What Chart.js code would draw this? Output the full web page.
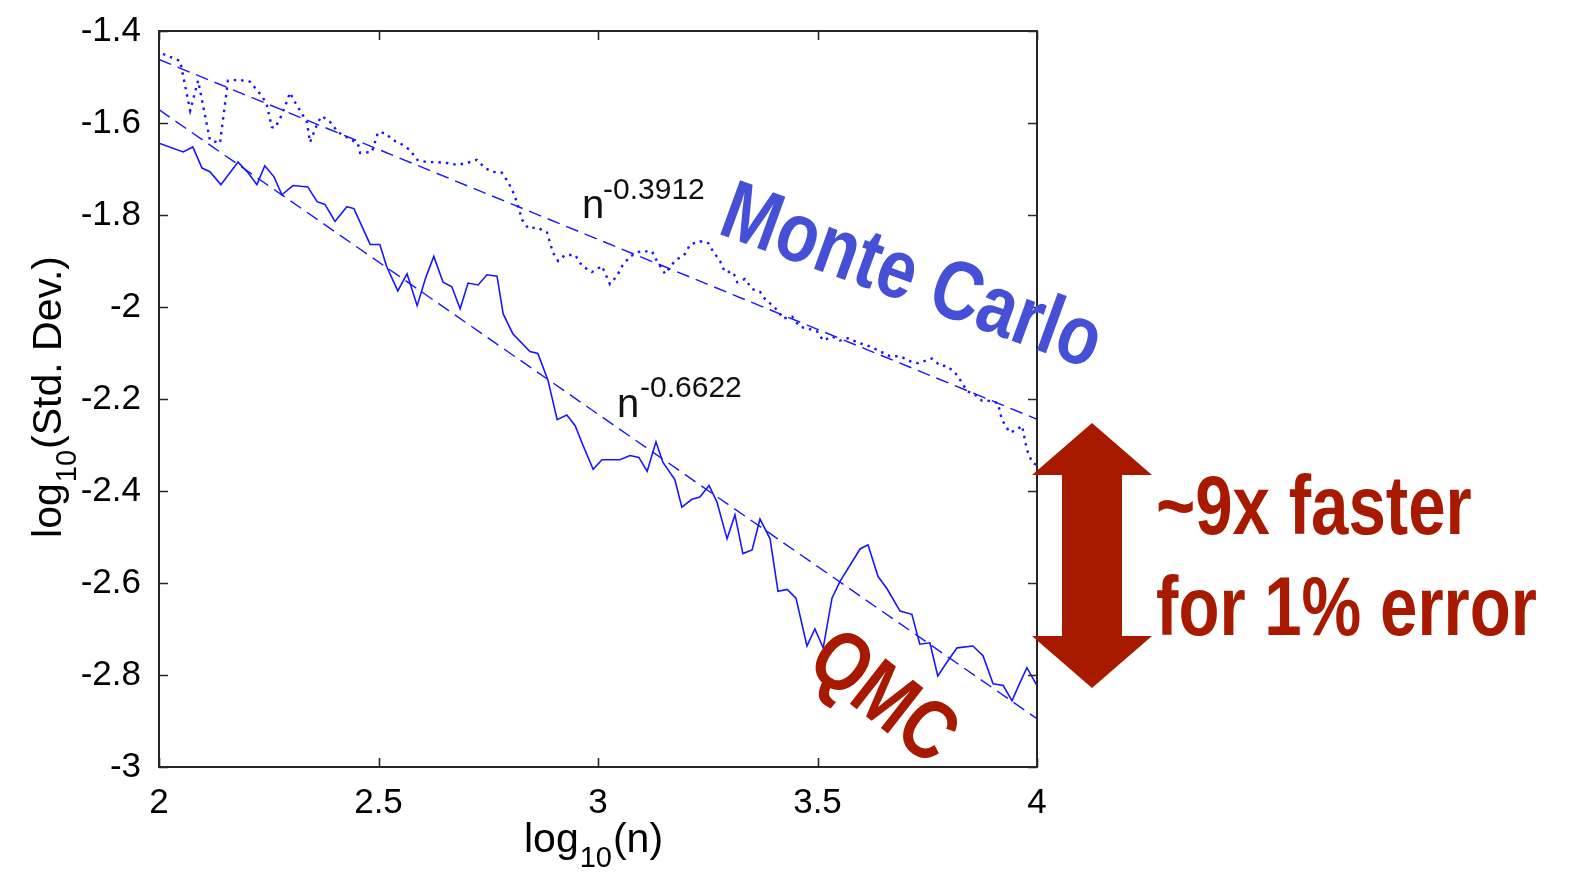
<!DOCTYPE html>
<html><head><meta charset="utf-8">
<script src="https://cdn.jsdelivr.net/npm/chart.js@4.4.1/dist/chart.umd.min.js"></script>
<style>html,body{margin:0;padding:0;background:#fff;}canvas{display:block;}</style>
</head><body>
<canvas id="c" width="1570" height="872" style="width:1570px;height:872px"></canvas>
<script>
// ---- data (log10 n, log10 std dev) ----
const qmcX = [2.00,2.055,2.077,2.098,2.116,2.141,2.180,2.203,2.223,2.241,2.262,2.280,2.305,2.339,2.360,2.378,2.401,2.428,2.444,2.481,2.503,2.519,2.544,2.565,2.588,2.608,2.626,2.647,2.667,2.686,2.704,2.727,2.747,2.770,2.784,2.806,2.845,2.863,2.886,2.907,2.929,2.948,2.966,2.989,3.009,3.050,3.073,3.093,3.112,3.132,3.148,3.175,3.191,3.214,3.232,3.253,3.271,3.294,3.312,3.330,3.351,3.369,3.392,3.410,3.431,3.451,3.476,3.494,3.513,3.533,3.551,3.597,3.615,3.638,3.658,3.688,3.715,3.733,3.756,3.774,3.797,3.818,3.854,3.877,3.900,3.923,3.943,3.961,3.977,4.000];
const qmcY = [-1.644,-1.663,-1.652,-1.698,-1.706,-1.734,-1.685,-1.708,-1.734,-1.693,-1.717,-1.756,-1.736,-1.739,-1.771,-1.777,-1.814,-1.782,-1.786,-1.864,-1.864,-1.913,-1.965,-1.928,-1.997,-1.935,-1.890,-1.946,-1.956,-2.004,-1.948,-1.952,-1.930,-1.933,-2.015,-2.058,-2.097,-2.101,-2.159,-2.245,-2.235,-2.258,-2.301,-2.353,-2.332,-2.332,-2.323,-2.327,-2.357,-2.293,-2.338,-2.375,-2.435,-2.418,-2.413,-2.388,-2.424,-2.504,-2.452,-2.536,-2.528,-2.461,-2.504,-2.618,-2.614,-2.633,-2.737,-2.700,-2.741,-2.633,-2.597,-2.526,-2.517,-2.586,-2.612,-2.661,-2.668,-2.733,-2.730,-2.802,-2.769,-2.741,-2.737,-2.758,-2.819,-2.823,-2.856,-2.817,-2.784,-2.823];
const mcX = [2.009,2.030,2.048,2.071,2.089,2.116,2.139,2.157,2.180,2.207,2.226,2.237,2.246,2.257,2.264,2.276,2.294,2.298,2.310,2.337,2.344,2.362,2.371,2.390,2.408,2.428,2.453,2.458,2.485,2.499,2.515,2.533,2.556,2.572,2.588,2.610,2.633,2.656,2.679,2.702,2.724,2.743,2.759,2.781,2.795,2.806,2.815,2.827,2.841,2.861,2.884,2.897,2.909,2.925,2.948,2.964,2.986,3.009,3.027,3.043,3.055,3.073,3.096,3.123,3.134,3.153,3.175,3.198,3.210,3.232,3.251,3.262,3.278,3.289,3.308,3.317,3.335,3.351,3.369,3.380,3.410,3.421,3.442,3.460,3.478,3.499,3.513,3.533,3.551,3.569,3.597,3.620,3.638,3.665,3.688,3.711,3.729,3.761,3.779,3.797,3.818,3.841,3.859,3.875,3.893,3.911,3.920,3.938,3.954,3.966,3.977,3.989,4.000];
const mcY = [-1.450,-1.458,-1.465,-1.573,-1.508,-1.637,-1.644,-1.508,-1.506,-1.510,-1.532,-1.545,-1.562,-1.609,-1.611,-1.590,-1.547,-1.534,-1.555,-1.598,-1.642,-1.598,-1.585,-1.598,-1.620,-1.631,-1.644,-1.665,-1.663,-1.620,-1.622,-1.637,-1.648,-1.659,-1.680,-1.685,-1.685,-1.687,-1.691,-1.687,-1.680,-1.698,-1.706,-1.708,-1.728,-1.749,-1.771,-1.810,-1.829,-1.827,-1.838,-1.881,-1.900,-1.887,-1.887,-1.911,-1.924,-1.911,-1.950,-1.933,-1.911,-1.890,-1.879,-1.879,-1.900,-1.928,-1.900,-1.885,-1.864,-1.857,-1.861,-1.879,-1.900,-1.924,-1.924,-1.946,-1.939,-1.961,-1.967,-1.982,-2.008,-2.025,-2.021,-2.043,-2.047,-2.053,-2.073,-2.064,-2.073,-2.068,-2.079,-2.086,-2.094,-2.107,-2.107,-2.118,-2.122,-2.112,-2.127,-2.129,-2.148,-2.183,-2.191,-2.204,-2.204,-2.209,-2.245,-2.273,-2.267,-2.258,-2.310,-2.338,-2.344];
const mcFitX = [2, 4];
const mcFitY = [-1.462, -2.244];
const qmcFitX = [2, 4];
const qmcFitY = [-1.571, -2.895];
const xTicks = [2, 2.5, 3, 3.5, 4];
const yTicks = [-1.4, -1.6, -1.8, -2, -2.2, -2.4, -2.6, -2.8, -3];
const mcExponent = '-0.3912';
const qmcExponent = '-0.6622';
const mcLabel = 'Monte Carlo';
const qmcLabel = 'QMC';
const speedLines = ['~9x faster', 'for 1% error'];

const FONT = '"Liberation Sans", Arial, Helvetica, sans-serif';
const BLUE = '#1717ff';
const RED = '#a81a00';
const MCBLUE = '#4550d6';

function pts(xs, ys){ const n=Math.min(xs.length, ys.length); const a=[]; for(let i=0;i<n;i++) a.push({x:xs[i], y:ys[i]}); return a; }

const extras = {
  id: 'extras',
  afterDraw(chart){
    const ctx = chart.ctx, a = chart.chartArea;
    const xs = chart.scales.x, ys = chart.scales.y;
    ctx.save();
    // frame
    ctx.strokeStyle = '#262626'; ctx.lineWidth = 2;
    ctx.strokeRect(a.left, a.top, a.right - a.left, a.bottom - a.top);
    // inward ticks
    ctx.lineWidth = 1.6;
    ctx.beginPath();
    const TL = 9;
    xTicks.forEach(v => { const p = Math.round(xs.getPixelForValue(v)) + 0.5;
      ctx.moveTo(p, a.bottom); ctx.lineTo(p, a.bottom - TL);
      ctx.moveTo(p, a.top); ctx.lineTo(p, a.top + TL); });
    yTicks.forEach(v => { const p = Math.round(ys.getPixelForValue(v)) + 0.5;
      ctx.moveTo(a.left, p); ctx.lineTo(a.left + TL, p);
      ctx.moveTo(a.right, p); ctx.lineTo(a.right - TL, p); });
    ctx.stroke();

    // x title: log10(n)
    ctx.fillStyle = '#000';
    ctx.textBaseline = 'alphabetic';
    ctx.textAlign = 'left';
    const big = '41px ' + FONT, sub = '29px ' + FONT;
    ctx.font = big; const w1 = ctx.measureText('log').width, w3 = ctx.measureText('(n)').width;
    ctx.font = sub; const w2 = ctx.measureText('10').width;
    let cx = 524;
    const by = 852;
    ctx.font = big; ctx.fillText('log', cx, by); cx += w1 + 1;
    ctx.font = sub; ctx.fillText('10', cx, by + 15); cx += w2 + 1;
    ctx.font = big; ctx.fillText('(n)', cx, by);

    // y title: log10(Std. Dev.)
    ctx.save();
    ctx.translate(61, 398);
    ctx.rotate(-Math.PI / 2);
    ctx.font = big; const v1 = ctx.measureText('log').width, v3 = ctx.measureText('(Std. Dev.)').width;
    ctx.font = sub; const v2 = ctx.measureText('10').width;
    let tx = -(v1 + v2 + v3) / 2;
    ctx.font = big; ctx.fillText('log', tx, 0); tx += v1 + 1;
    ctx.font = sub; ctx.fillText('10', tx, 15); tx += v2 + 1;
    ctx.font = big; ctx.fillText('(Std. Dev.)', tx, 0);
    ctx.restore();

    // exponent labels
    ctx.fillStyle = '#111';
    const nFont = '40px ' + FONT, eFont = '30px ' + FONT;
    ctx.font = nFont; ctx.fillText('n', 582, 218);
    ctx.font = eFont; ctx.fillText(mcExponent, 603, 199);
    ctx.font = nFont; ctx.fillText('n', 617, 417);
    ctx.font = eFont; ctx.fillText(qmcExponent, 640, 397);

    // Monte Carlo label
    ctx.save();
    ctx.fillStyle = MCBLUE;
    ctx.translate(716, 233);
    ctx.rotate(20 * Math.PI / 180);
    ctx.scale(0.82, 1);
    ctx.font = 'bold 84px ' + FONT;
    ctx.fillText(mcLabel, 0, 0);
    ctx.restore();

    // QMC label
    ctx.save();
    ctx.fillStyle = RED;
    ctx.translate(804, 668);
    ctx.rotate(38 * Math.PI / 180);
    ctx.scale(0.82, 1);
    ctx.font = 'bold 84px ' + FONT;
    ctx.fillText(qmcLabel, 0, 0);
    ctx.restore();

    // double arrow
    ctx.fillStyle = RED;
    ctx.beginPath();
    ctx.moveTo(1092, 423);
    ctx.lineTo(1152, 475); ctx.lineTo(1122, 475); ctx.lineTo(1122, 636);
    ctx.lineTo(1152, 636); ctx.lineTo(1092, 688); ctx.lineTo(1032, 636);
    ctx.lineTo(1062, 636); ctx.lineTo(1062, 475); ctx.lineTo(1032, 475);
    ctx.closePath(); ctx.fill();

    // speed text
    ctx.font = 'bold 84px ' + FONT;
    [[speedLines[0], 534], [speedLines[1], 635]].forEach(([t, y]) => {
      ctx.save(); ctx.translate(1156, y); ctx.scale(0.8, 1); ctx.fillText(t, 0, 0); ctx.restore();
    });
    ctx.restore();
  }
};

new Chart(document.getElementById('c'), {
  type: 'scatter',
  data: {
    datasets: [
      { label: 'MC fit', data: pts(mcFitX, mcFitY), showLine: true, borderColor: BLUE, borderWidth: 1.4, borderDash: [13, 7], pointRadius: 0, fill: false },
      { label: 'QMC fit', data: pts(qmcFitX, qmcFitY), showLine: true, borderColor: BLUE, borderWidth: 1.4, borderDash: [13, 7], pointRadius: 0, fill: false },
      { label: 'Monte Carlo', data: pts(mcX, mcY), showLine: true, borderColor: BLUE, borderWidth: 2.4, borderDash: [2.5, 5], pointRadius: 0, fill: false },
      { label: 'QMC', data: pts(qmcX, qmcY), showLine: true, borderColor: BLUE, borderWidth: 1.6, pointRadius: 0, fill: false }
    ]
  },
  options: {
    responsive: false,
    animation: false,
    events: [],
    layout: { padding: { left: 0, right: 533, top: 25, bottom: 0 } },
    plugins: { legend: { display: false }, tooltip: { enabled: false } },
    scales: {
      x: {
        type: 'linear', min: 2, max: 4,
        afterBuildTicks: s => { s.ticks = xTicks.map(v => ({ value: v })); },
        afterFit: s => { s.height = 105; },
        grid: { display: false }, border: { display: false },
        ticks: { color: '#000', padding: 7, font: { family: FONT, size: 35 }, callback: v => String(v), maxRotation: 0, autoSkip: false }
      },
      y: {
        type: 'linear', min: -3, max: -1.4,
        afterBuildTicks: s => { s.ticks = yTicks.map(v => ({ value: v })); },
        afterFit: s => { s.width = 159; },
        grid: { display: false }, border: { display: false },
        ticks: { color: '#000', padding: 10, font: { family: FONT, size: 35 }, callback: v => String(v), autoSkip: false }
      }
    }
  },
  plugins: [extras]
});
</script>
</body></html>
